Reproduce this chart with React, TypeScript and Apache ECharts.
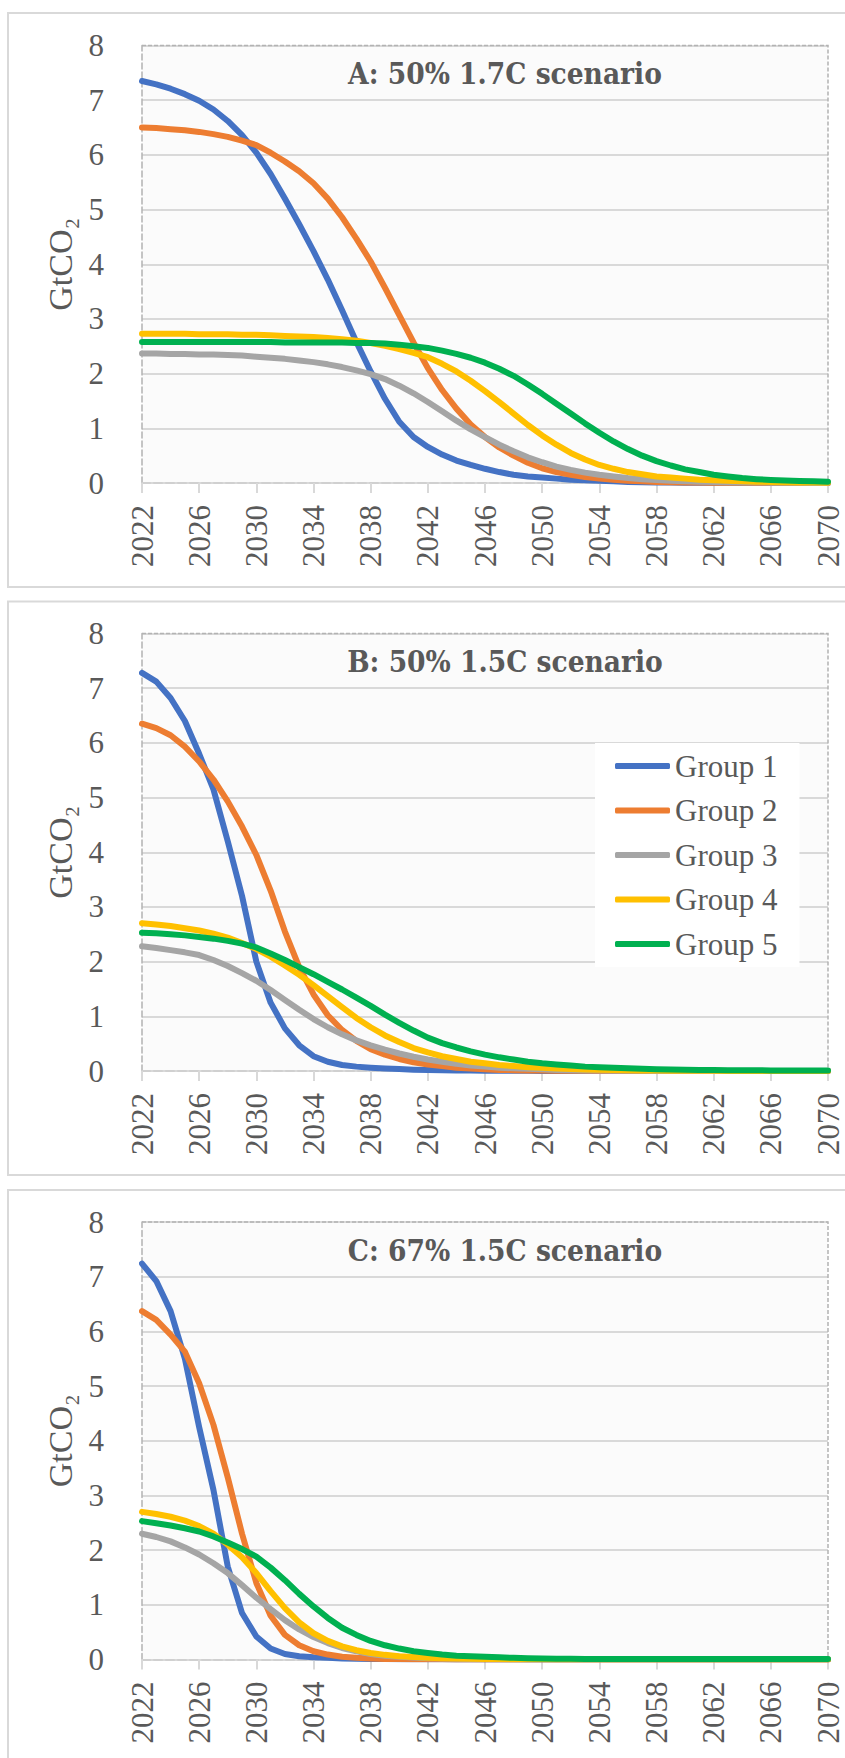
import React, { useEffect, useRef } from "react";
import * as echarts from "echarts";

const YEARS: string[] = [];
for (let y = 2022; y <= 2070; y++) YEARS.push(String(y));

const GROUPS = ["Group 1", "Group 2", "Group 3", "Group 4", "Group 5"];
const COLORS = ["#4472C4", "#ED7D31", "#A5A5A5", "#FFC000", "#00B050"];
const TITLES = ["A: 50% 1.7C scenario", "B: 50% 1.5C scenario", "C: 67% 1.5C scenario"];
const Y_TICKS = [0, 1, 2, 3, 4, 5, 6, 7, 8];

// Panel A: 50% 1.7C
const A_G1 = [7.35,7.29,7.21,7.11,6.99,6.83,6.62,6.36,6.04,5.65, 5.2,4.73,4.24,3.72,3.16,2.58,2.04,1.54,1.12,0.84, 0.66,0.52,0.41,0.33,0.26,0.2,0.15,0.12,0.1,0.08, 0.06,0.05,0.04,0.03,0.02,0.015,0.01,0.008,0.006,0.005, 0.004,0.003,0.002,0.002,0.001,0.001,0.001,0,0];
const A_G2 = [6.5,6.49,6.47,6.45,6.42,6.38,6.33,6.26,6.18,6.04, 5.88,5.7,5.48,5.2,4.86,4.47,4.05,3.57,3.07,2.57, 2.1,1.7,1.36,1.07,0.84,0.65,0.5,0.37,0.27,0.2, 0.15,0.11,0.08,0.06,0.04,0.03,0.02,0.015,0.01,0.007, 0.005,0.004,0.003,0.002,0.001,0.001,0.001,0,0];
const A_G3 = [2.37,2.37,2.36,2.36,2.35,2.35,2.34,2.33,2.31,2.29, 2.27,2.24,2.21,2.17,2.12,2.06,1.99,1.9,1.78,1.64, 1.48,1.31,1.14,0.98,0.84,0.7,0.58,0.47,0.38,0.3, 0.24,0.19,0.15,0.12,0.09,0.07,0.055,0.04,0.03,0.025, 0.02,0.015,0.01,0.008,0.006,0.004,0.003,0.002,0.001];
const A_G4 = [2.73,2.73,2.73,2.73,2.72,2.72,2.72,2.71,2.71,2.7, 2.69,2.68,2.67,2.65,2.63,2.6,2.56,2.51,2.45,2.38, 2.3,2.18,2.04,1.87,1.68,1.48,1.27,1.06,0.87,0.7, 0.55,0.43,0.33,0.26,0.2,0.16,0.12,0.1,0.08,0.06, 0.05,0.04,0.03,0.025,0.02,0.015,0.01,0.008,0.006];
const A_G5 = [2.58,2.58,2.58,2.58,2.58,2.58,2.58,2.58,2.58,2.58, 2.57,2.57,2.57,2.57,2.57,2.56,2.56,2.55,2.53,2.5, 2.47,2.42,2.36,2.29,2.2,2.09,1.96,1.8,1.63,1.45, 1.27,1.09,0.92,0.76,0.62,0.5,0.4,0.32,0.25,0.2, 0.15,0.12,0.09,0.07,0.055,0.045,0.035,0.03,0.025];

// Panel B: 50% 1.5C
const B_G1 = [7.28,7.12,6.82,6.4,5.8,5.15,4.2,3.2,2.0,1.25, 0.78,0.47,0.27,0.17,0.11,0.08,0.06,0.045,0.035,0.025, 0.02,0.015,0.01,0.008,0.006,0.005,0.004,0.003,0.002,0.002, 0.001,0.001,0.001,0,0,0,0,0,0,0, 0,0,0,0,0,0,0,0,0];
const B_G2 = [6.35,6.27,6.14,5.93,5.66,5.33,4.93,4.47,3.95,3.3, 2.55,1.9,1.4,1.02,0.75,0.55,0.4,0.3,0.22,0.16, 0.12,0.09,0.06,0.045,0.03,0.02,0.015,0.01,0.008,0.006, 0.004,0.003,0.002,0.001,0.001,0,0,0,0,0, 0,0,0,0,0,0,0,0,0];
const B_G3 = [2.28,2.25,2.21,2.17,2.12,2.03,1.92,1.79,1.65,1.48, 1.3,1.12,0.95,0.8,0.67,0.56,0.47,0.39,0.32,0.26, 0.21,0.17,0.13,0.1,0.08,0.06,0.05,0.04,0.03,0.02, 0.015,0.01,0.008,0.006,0.004,0.003,0.002,0.001,0.001,0, 0,0,0,0,0,0,0,0,0];
const B_G4 = [2.7,2.68,2.65,2.61,2.57,2.51,2.44,2.34,2.23,2.09, 1.93,1.76,1.57,1.37,1.17,0.97,0.8,0.65,0.53,0.42, 0.34,0.27,0.22,0.17,0.14,0.11,0.09,0.07,0.06,0.045, 0.035,0.028,0.022,0.017,0.013,0.01,0.008,0.006,0.005,0.004, 0.003,0.002,0.002,0.001,0.001,0.001,0,0,0];
const B_G5 = [2.53,2.52,2.5,2.48,2.45,2.42,2.38,2.33,2.26,2.15, 2.03,1.9,1.77,1.63,1.49,1.34,1.19,1.03,0.88,0.74, 0.61,0.51,0.43,0.36,0.3,0.25,0.21,0.17,0.14,0.12, 0.1,0.08,0.07,0.06,0.05,0.04,0.033,0.028,0.024,0.02, 0.017,0.015,0.013,0.012,0.011,0.01,0.01,0.01,0.01];

// Panel C: 67% 1.5C
const C_G1 = [7.24,6.92,6.37,5.5,4.25,3.1,1.7,0.85,0.42,0.2, 0.1,0.06,0.04,0.03,0.02,0.015,0.01,0.008,0.006,0.005, 0.004,0.003,0.002,0.002,0.001,0.001,0,0,0,0, 0,0,0,0,0,0,0,0,0,0, 0,0,0,0,0,0,0,0,0];
const C_G2 = [6.37,6.21,5.94,5.63,5.05,4.29,3.33,2.3,1.4,0.8, 0.45,0.26,0.15,0.09,0.05,0.03,0.02,0.01,0.008,0.006, 0.004,0.003,0.002,0.001,0.001,0,0,0,0,0, 0,0,0,0,0,0,0,0,0,0, 0,0,0,0,0,0,0,0,0];
const C_G3 = [2.3,2.24,2.16,2.05,1.92,1.76,1.58,1.36,1.13,0.92, 0.72,0.55,0.41,0.3,0.21,0.15,0.1,0.07,0.05,0.035, 0.025,0.018,0.012,0.008,0.006,0.004,0.003,0.002,0.001,0.001, 0,0,0,0,0,0,0,0,0,0, 0,0,0,0,0,0,0,0,0];
const C_G4 = [2.7,2.66,2.61,2.54,2.44,2.3,2.1,1.87,1.58,1.25, 0.94,0.68,0.48,0.34,0.24,0.17,0.12,0.085,0.06,0.045, 0.033,0.024,0.018,0.013,0.01,0.008,0.006,0.004,0.003,0.002, 0.002,0.001,0.001,0,0,0,0,0,0,0, 0,0,0,0,0,0,0,0,0];
const C_G5 = [2.53,2.49,2.45,2.4,2.34,2.25,2.14,2.02,1.88,1.68, 1.45,1.2,0.97,0.76,0.58,0.45,0.34,0.26,0.2,0.15, 0.12,0.09,0.07,0.06,0.05,0.04,0.03,0.025,0.02,0.015, 0.012,0.01,0.01,0.01,0.01,0.01,0.01,0.01,0.01,0.01, 0.01,0.01,0.01,0.01,0.01,0.01,0.01,0.01,0.01];

const PANEL_DATA = [
  [A_G1, A_G2, A_G3, A_G4, A_G5],
  [B_G1, B_G2, B_G3, B_G4, B_G5],
  [C_G1, C_G2, C_G3, C_G4, C_G5],
];

// layout
const W = 845;
const H = 1758;
const GRID_LEFT = 142;
const GRID_RIGHT_X = 828;
const GRID_H = 437.5;
const PANELS = [
  { top: 13, h: 574, gridTop: 45.5 },
  { top: 601.5, h: 573.5, gridTop: 633.5 },
  { top: 1190, h: 640, gridTop: 1222 },
];
const TEXT = "#595959";
const SERIF = "'Liberation Serif', 'Times New Roman', serif";

export default function App() {
  const ref = useRef<HTMLDivElement>(null);
  useEffect(() => {
    if (!ref.current) return;
    const chart = echarts.init(ref.current, undefined, { renderer: "svg" });

    const grids: any[] = [];
    const xAxes: any[] = [];
    const yAxes: any[] = [];
    const series: any[] = [];
    const graphics: any[] = [];

    PANELS.forEach((p, i) => {
      graphics.push({
        type: "rect",
        z: -10,
        shape: { x: 8, y: p.top, width: 900, height: p.h },
        style: { fill: "#ffffff", stroke: "#d9d9d9", lineWidth: 2 },
      });
      grids.push({
        left: GRID_LEFT,
        top: p.gridTop,
        width: GRID_RIGHT_X - GRID_LEFT,
        height: GRID_H,
        show: true,
        backgroundColor: "#fbfbfb",
        borderWidth: 0,
      });
      xAxes.push({
        type: "category",
        gridIndex: i,
        data: YEARS,
        boundaryGap: false,
        axisLine: { show: true, lineStyle: { color: "#d0d0d0", width: 2, type: "dashed" } },
        axisTick: { show: true, interval: 3, length: 10, lineStyle: { color: "#d9d9d9", width: 2 } },
        axisLabel: {
          interval: 3,
          rotate: 90,
          margin: 22,
          color: TEXT,
          fontFamily: SERIF,
          fontSize: 31,
        },
        splitLine: { show: false },
      });
      yAxes.push({
        type: "value",
        gridIndex: i,
        min: Y_TICKS[0],
        max: Y_TICKS[Y_TICKS.length - 1],
        interval: 1,
        name: "GtCO\u2082",
        nameLocation: "middle",
        nameRotate: 90,
        nameGap: 62,
        nameTextStyle: { color: TEXT, fontFamily: SERIF, fontSize: 34 },
        axisLine: { show: true, lineStyle: { color: "#b3b3b3", width: 1.5, type: "dashed" } },
        axisTick: { show: false },
        axisLabel: { margin: 38, color: TEXT, fontFamily: SERIF, fontSize: 31 },
        splitLine: { show: true, lineStyle: { color: "#d9d9d9", width: 2 } },
      });
      // top and right dashed plot border
      graphics.push({
        type: "polyline",
        z: 1,
        shape: {
          points: [
            [GRID_LEFT, p.gridTop],
            [GRID_RIGHT_X, p.gridTop],
            [GRID_RIGHT_X, p.gridTop + GRID_H],
          ],
        },
        style: { stroke: "#b3b3b3", lineWidth: 1.5, lineDash: [4, 2], fill: null },
      });
      graphics.push({
        type: "text",
        z: 5,
        x: 505,
        y: p.gridTop + 28,
        style: {
          text: TITLES[i],
          fill: TEXT,
          fontFamily: "'DejaVu Serif Condensed', 'DejaVu Serif', serif",
          fontWeight: "bold",
          fontSize: 29.5,
          align: "center",
          verticalAlign: "middle",
        },
      });
      PANEL_DATA[i].forEach((vals, k) => {
        series.push({
          type: "line",
          name: GROUPS[k],
          xAxisIndex: i,
          yAxisIndex: i,
          data: vals,
          color: COLORS[k],
          symbol: "none",
          smooth: false,
          lineStyle: { color: COLORS[k], width: 6, cap: "round", join: "round" },
          z: 2 + k,
        });
      });
    });

    chart.setOption({
      animation: false,
      grid: grids,
      xAxis: xAxes,
      yAxis: yAxes,
      series,
      graphic: graphics,
      legend: {
        show: true,
        orient: "vertical",
        left: 595,
        top: 743,
        padding: [6, 22, 6, 20],
        backgroundColor: "#ffffff",
        itemWidth: 55,
        itemHeight: 6,
        itemGap: 10.5,
        icon: "roundRect",
        selectedMode: false,
        data: GROUPS,
        textStyle: { color: TEXT, fontFamily: SERIF, fontSize: 31, lineHeight: 34 },
      },
    });

    return () => chart.dispose();
  }, []);

  return (
    <div
      ref={ref}
      style={{ position: "absolute", left: 0, top: 0, width: W, height: H, background: "#ffffff" }}
    />
  );
}
